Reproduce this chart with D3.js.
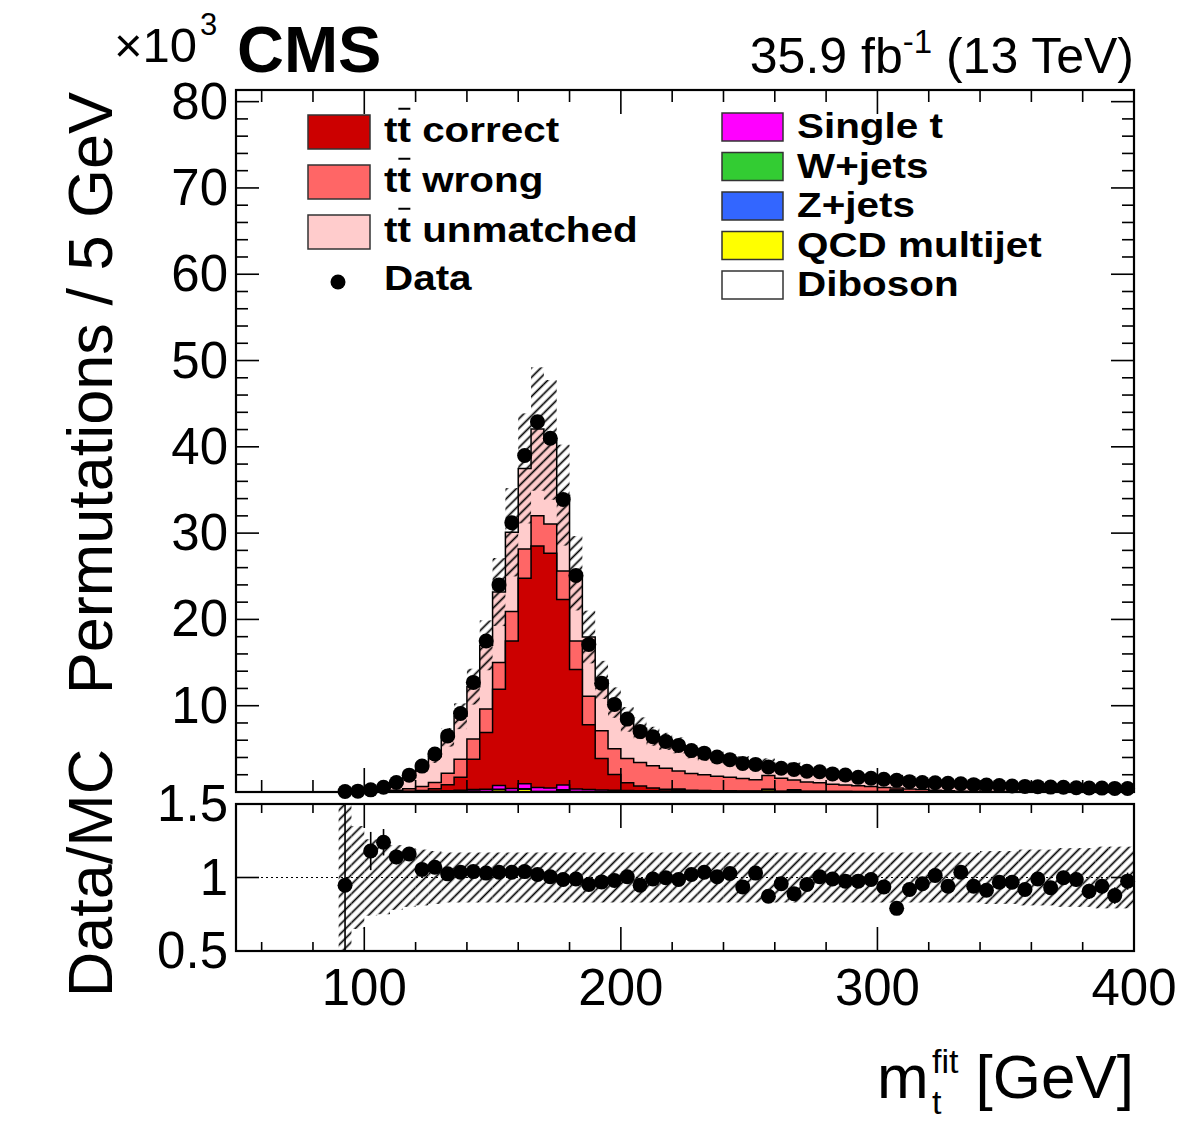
<!DOCTYPE html>
<html><head><meta charset="utf-8">
<script src="https://cdn.jsdelivr.net/npm/d3@7"></script>
<style>
body{margin:0;background:#fff}
svg{display:block}
text{font-family:"Liberation Sans",Arial,Helvetica,sans-serif;fill:#000}
</style>
</head><body>
<svg id="c" width="1182" height="1134"></svg>
<script>
// ---------------- data (values in thousands of permutations) ----------------
const binLowEdges = [90,95,100,105,110,115,120,125,130,135,140,145,150,155,160,165,170,175,180,185,
  190,195,200,205,210,215,220,225,230,235,240,245,250,255,260,265,270,275,280,285,
  290,295,300,305,310,315,320,325,330,335,340,345,350,355,360,365,370,375,380,385,390,395];
const binWidth = 5;

const dataValues = [0.06,0.1,0.25,0.55,1.1,1.95,3.0,4.4,6.5,9.1,
  12.7,17.5,24.0,31.2,39.0,42.9,41.0,33.9,25.1,17.1,
  12.6,10.15,8.45,7.0,6.4,5.85,5.4,4.8,4.5,4.05,
  3.75,3.3,3.2,2.9,2.75,2.6,2.4,2.35,2.1,1.97,
  1.7,1.6,1.47,1.35,1.2,1.1,1.07,1.0,0.95,0.85,
  0.8,0.75,0.7,0.65,0.62,0.57,0.55,0.5,0.47,0.45,0.42,0.4];

const ttCorrect = [0.005,0.008,0.01,0.02,0.03,0.04,0.08,0.25,0.7,1.5,
  3.5,6.6,11.15,17.1,23.8,28.0,27.2,21.5,13.85,7.5,
  3.65,1.8,0.9,0.55,0.32,0.2,0.1,0.08,0.07,0.06,
  0.05,0.05,0.045,0.04,0.04,0.03,0.03,0.025,0.02,0.02,
  0.015,0.015,0.015,0.01,0.01,0.01,0.01,0.005,0.005,0.005,
  0.005,0.005,0.005,0.005,0.005,0.005,0.005,0.005,0.005,0.005,0.005,0.005];

const ttWrong = [0.01,0.015,0.03,0.07,0.15,0.27,0.45,0.75,1.35,2.1,
  2.35,2.7,3.1,3.4,3.4,3.5,3.4,3.3,3.3,3.3,
  3.2,3.0,2.8,2.7,2.6,2.42,2.1,1.95,1.83,1.67,
  1.56,1.45,1.31,1.57,1.5,1.13,1.06,1.0,0.83,0.755,
  0.665,0.575,0.47,0.25,0.3,0.25,0.18,0.12,0.08,0.05,
  0.04,0.035,0.03,0.025,0.025,0.02,0.02,0.02,0.015,0.015,0.015,0.015];

const ttUnmatched = [0.039,0.03,0.155,0.327,0.75,1.31,2.215,2.995,4.155,4.985,
  6.065,7.395,8.165,9.195,9.335,10.045,9.735,8.795,7.845,6.865,
  5.895,5.345,4.525,3.985,3.405,3.115,2.975,2.565,2.34,2.21,
  1.95,1.955,1.68,1.43,1.27,1.52,1.37,1.265,1.22,1.2,
  1.02,0.99,1.05,1.26,0.975,0.87,0.855,0.92,0.82,0.835,
  0.825,0.72,0.675,0.67,0.59,0.575,0.515,0.475,0.49,0.45,0.45,0.38];

const singleTop = [0.005,0.005,0.01,0.015,0.02,0.04,0.06,0.08,0.1,0.15,
  0.2,0.25,0.45,0.35,0.6,0.45,0.4,0.55,0.3,0.25,
  0.2,0.17,0.14,0.12,0.1,0.09,0.08,0.08,0.07,0.06,
  0.06,0.05,0.05,0.05,0.04,0.04,0.04,0.03,0.03,0.03,
  0.025,0.025,0.02,0.02,0.015,0.015,0.01,0.01,0.01,0.005,
  0.005,0.005,0.005,0.005,0.005,0.005,0.005,0.005,0.005,0.005,0.005,0.005];

const wJets = [0.002,0.002,0.003,0.005,0.01,0.015,0.02,0.02,0.02,0.03,
  0.03,0.04,0.04,0.04,0.05,0.05,0.05,0.04,0.04,0.03,
  0.03,0.03,0.03,0.02,0.02,0.02,0.02,0.02,0.015,0.015,
  0.015,0.01,0.01,0.01,0.01,0.01,0.01,0.01,0.01,0.005,
  0.005,0.005,0.005,0.005,0.005,0.005,0.005,0.005,0.005,0.005,
  0.005,0.005,0.005,0.005,0.005,0.005,0.005,0.005,0.005,0.005,0.005,0.005];

const zJets = [0.002,0.002,0.002,0.003,0.005,0.005,0.01,0.01,0.01,0.01,
  0.01,0.01,0.01,0.01,0.01,0.01,0.01,0.01,0.01,0.01,
  0.01,0.01,0.01,0.01,0.01,0.01,0.01,0.01,0.01,0.01,
  0.01,0.01,0.01,0.005,0.005,0.005,0.005,0.005,0.005,0.005,
  0.005,0.005,0.005,0.005,0.005,0,0,0,0,0,
  0,0,0,0,0,0,0,0,0,0,0,0];

const qcdMultijet = [0,0,0,0,0,0,0,0,0,0,
  0.05,0,0.25,0,0.3,0,0,0.2,0,0,
  0,0,0,0,0,0,0.12,0,0,0,
  0,0,0,0.22,0,0.18,0,0,0,0,
  0,0,0,0.16,0,0,0,0,0,0,
  0,0,0,0,0,0,0,0,0,0,0,0];

const diboson = [0,0,0,0,0,0,0.005,0.005,0.005,0.005,
  0.005,0.005,0.005,0.005,0.005,0.005,0.005,0.005,0.005,0.005,
  0.005,0.005,0.005,0.005,0.005,0.005,0.005,0.005,0.005,0.005,
  0.005,0.005,0.005,0.005,0.005,0.005,0.005,0.005,0.005,0.005,
  0.005,0.005,0.005,0,0,0,0,0,0,0,
  0,0,0,0,0,0,0,0,0,0,0,0];

const ratioValues = [0.947,1.7,1.18,1.24,1.14,1.16,1.055,1.07,1.025,1.036,
  1.04,1.03,1.036,1.036,1.04,1.02,1.005,0.986,0.99,0.952,
  0.97,0.98,1.005,0.947,0.99,0.998,0.986,1.02,1.036,1.005,
  1.027,0.936,1.03,0.872,0.957,0.89,0.952,1.005,0.99,0.975,
  0.975,0.986,0.936,0.79,0.918,0.957,1.014,0.94,1.036,0.94,
  0.913,0.968,0.968,0.918,0.99,0.93,0.998,0.986,0.906,0.94,0.877,0.975];

const ratioErrors = [0.6,0.3,0.13,0.09,0.05,0.04,0.03,0.025,0.02,0.015,
  0.012,0.012,0.012,0.012,0.012,0.012,0.012,0.012,0.012,0.012,
  0.012,0.012,0.012,0.012,0.012,0.012,0.012,0.012,0.012,0.012,
  0.015,0.015,0.018,0.018,0.02,0.02,0.02,0.022,0.022,0.025,
  0.025,0.027,0.028,0.03,0.03,0.032,0.033,0.035,0.036,0.038,
  0.04,0.041,0.042,0.044,0.045,0.046,0.048,0.05,0.052,0.054,0.056,0.058];

const mcRelUnc = [1.0,0.35,0.26,0.25,0.22,0.2,0.19,0.18,0.17,0.17,
  0.17,0.17,0.17,0.17,0.17,0.17,0.17,0.17,0.17,0.17,
  0.17,0.17,0.17,0.17,0.17,0.17,0.17,0.17,0.17,0.17,
  0.17,0.17,0.17,0.17,0.17,0.17,0.17,0.17,0.17,0.17,
  0.17,0.17,0.17,0.17,0.17,0.17,0.17,0.17,0.17,0.17,
  0.18,0.18,0.18,0.19,0.19,0.19,0.2,0.2,0.2,0.21,0.21,0.21];

const xTickLabels = [100,200,300,400];
const yTickLabels = [10,20,30,40,50,60,70,80];
const ratioTickLabels = [0.5,1,1.5];

// ---------------- styles ----------------
const colors = {ttCorrect:'#cc0000', ttWrong:'#ff6666', ttUnmatched:'#ffcccc',
  singleTop:'#ff00ff', wJets:'#33cc33', zJets:'#3366ff', qcdMultijet:'#ffff00', diboson:'#ffffff'};
const labels = {ttCorrect:' correct', ttWrong:' wrong', ttUnmatched:' unmatched',
  singleTop:'Single t', wJets:'W+jets', zJets:'Z+jets', qcdMultijet:'QCD multijet', diboson:'Diboson'};

const svg = d3.select('#c');
const X0 = 236, X1 = 1134, YT = 90, YB = 792, RT = 804, RB = 951;
const x = d3.scaleLinear().domain([50,400]).range([X0,X1]);
const y = d3.scaleLinear().domain([0,81.35]).range([YB,YT]);
const yr = d3.scaleLinear().domain([0.5,1.5]).range([RB,RT]);

const defs = svg.append('defs');
const pat = defs.append('pattern').attr('id','hatch').attr('patternUnits','userSpaceOnUse')
  .attr('width',6.8).attr('height',6.8).attr('patternTransform','rotate(45)');
pat.append('line').attr('x1',3.4).attr('y1',0).attr('x2',3.4).attr('y2',6.8)
  .attr('stroke','#000').attr('stroke-width',1.7);
defs.append('clipPath').attr('id','rclip').append('rect')
  .attr('x',X0).attr('y',RT).attr('width',X1-X0).attr('height',RB-RT);
defs.append('clipPath').attr('id','mclip').append('rect')
  .attr('x',X0).attr('y',YT).attr('width',X1-X0).attr('height',YB-YT);

// ---------------- stack ----------------
const series = {ttCorrect, ttWrong, ttUnmatched, singleTop, wJets, zJets, qcdMultijet, diboson};
const stackOrder = ['diboson','qcdMultijet','zJets','wJets','singleTop','ttCorrect','ttWrong','ttUnmatched'];
const rows = binLowEdges.map((lo,i)=>{const r={lo}; stackOrder.forEach(k=>r[k]=series[k][i]); return r;});
const stacked = d3.stack().keys(stackOrder)(rows);
const totals = stacked[stacked.length-1].map(d=>d[1]);

const main = svg.append('g');
const area = d3.area().x(p=>x(p[0])).y0(y(0)).y1(p=>y(p[1]));
stacked.slice().reverse().forEach(s=>{
  const pts = s.flatMap(d=>[[d.data.lo,d[1]],[d.data.lo+binWidth,d[1]]]);
  main.append('path').attr('d',area(pts)).attr('fill',colors[s.key])
    .attr('stroke','#000').attr('stroke-width',1.5).attr('stroke-linejoin','miter');
});

// MC uncertainty band (main)
main.append('g').attr('clip-path','url(#mclip)').selectAll('rect').data(binLowEdges).join('rect')
  .attr('x',d=>x(d)).attr('width',d=>x(d+binWidth)-x(d))
  .attr('y',(d,i)=>y(totals[i]*(1+mcRelUnc[i])))
  .attr('height',(d,i)=>y(Math.max(0,totals[i]*(1-mcRelUnc[i])))-y(totals[i]*(1+mcRelUnc[i])))
  .attr('fill','url(#hatch)');

// ---------------- ratio panel ----------------
const rp = svg.append('g');
rp.append('g').attr('clip-path','url(#rclip)').selectAll('rect').data(binLowEdges).join('rect')
  .attr('x',d=>x(d)).attr('width',d=>x(d+binWidth)-x(d))
  .attr('y',(d,i)=>yr(1+mcRelUnc[i]))
  .attr('height',(d,i)=>yr(1-mcRelUnc[i])-yr(1+mcRelUnc[i]))
  .attr('fill','url(#hatch)');
ratioTickLabels.forEach(v=>{
  rp.append('line').attr('x1',X0).attr('x2',X1).attr('y1',yr(v)).attr('y2',yr(v))
    .attr('stroke','#000').attr('stroke-width',1.2).attr('stroke-dasharray','2,3');
});

// ---------------- frames & ticks ----------------
const ax = svg.append('g').attr('stroke','#000').attr('stroke-width',1.6);
function tick(x1,y1,x2,y2){ax.append('line').attr('x1',x1).attr('y1',y1).attr('x2',x2).attr('y2',y2);}
const xMinor = d3.range(60,400,20).filter(v=>v%100!==0);
const xMajor = [100,200,300];
xMajor.forEach(v=>{tick(x(v),YB,x(v),YB-24);tick(x(v),YT,x(v),YT+24);
  tick(x(v),RB,x(v),RB-24);tick(x(v),RT,x(v),RT+24);});
xMinor.forEach(v=>{tick(x(v),YB,x(v),YB-12);tick(x(v),YT,x(v),YT+12);
  tick(x(v),RB,x(v),RB-9);tick(x(v),RT,x(v),RT+9);});
d3.range(0,81,2).forEach(v=>{const L=v%10===0?23:12;
  tick(X0,y(v),X0+L,y(v));tick(X1,y(v),X1-L,y(v));});
tick(X0,yr(1),X0+23,yr(1));tick(X1,yr(1),X1-23,yr(1));
svg.append('rect').attr('x',X0).attr('y',YT).attr('width',X1-X0).attr('height',YB-YT)
  .attr('fill','none').attr('stroke','#000').attr('stroke-width',2.2);
svg.append('rect').attr('x',X0).attr('y',RT).attr('width',X1-X0).attr('height',RB-RT)
  .attr('fill','none').attr('stroke','#000').attr('stroke-width',2.2);

// ---------------- data points ----------------
const R = 7.5;
svg.append('g').selectAll('circle').data(dataValues).join('circle')
  .attr('cx',(d,i)=>x(binLowEdges[i]+binWidth/2)).attr('cy',d=>y(d)).attr('r',R).attr('fill','#000');
const rpts = svg.append('g');
ratioValues.forEach((r,i)=>{
  if(r<0.5||r>1.5) return;
  const cx = x(binLowEdges[i]+binWidth/2);
  const e = ratioErrors[i];
  rpts.append('line').attr('x1',cx).attr('x2',cx)
    .attr('y1',yr(Math.min(1.5,r+e))).attr('y2',yr(Math.max(0.5,r-e)))
    .attr('stroke','#000').attr('stroke-width',1.6);
  rpts.append('circle').attr('cx',cx).attr('cy',yr(r)).attr('r',R).attr('fill','#000');
});

// ---------------- tick labels ----------------
const TF = 51;
yTickLabels.forEach(v=>svg.append('text').attr('x',228).attr('y',y(v)+17).attr('text-anchor','end')
  .attr('font-size',TF).text(v));
ratioTickLabels.forEach(v=>svg.append('text').attr('x',228).attr('y',yr(v)+17).attr('text-anchor','end')
  .attr('font-size',TF).text(v));
xTickLabels.forEach(v=>svg.append('text').attr('x',x(v)).attr('y',1005).attr('text-anchor','middle')
  .attr('font-size',TF).text(v));

// ---------------- titles ----------------
svg.append('text').attr('transform','translate(112,92) rotate(-90)').attr('text-anchor','end')
  .attr('font-size',63).text('Permutations / 5 GeV');
svg.append('text').attr('transform','translate(112,873) rotate(-90)').attr('text-anchor','middle')
  .attr('font-size',63).text('Data/MC');
svg.append('text').attr('x',877).attr('y',1098).attr('font-size',62).text('m');
svg.append('text').attr('x',932).attr('y',1073).attr('font-size',34).text('fit');
svg.append('text').attr('x',932).attr('y',1114).attr('font-size',34).text('t');
svg.append('text').attr('x',1134).attr('y',1098).attr('text-anchor','end').attr('font-size',62).text('[GeV]');

svg.append('text').attr('x',114).attr('y',62).attr('font-size',49).text('\u00d710');
svg.append('text').attr('x',200).attr('y',35).attr('font-size',31).text('3');
svg.append('text').attr('x',237).attr('y',72).attr('font-size',65).attr('font-weight','bold').text('CMS');
const lumi = svg.append('text').attr('x',1134).attr('y',73).attr('text-anchor','end').attr('font-size',50);
lumi.append('tspan').text('35.9 fb');
lumi.append('tspan').attr('dy',-20).attr('font-size',33).text('-1');
lumi.append('tspan').attr('dy',20).attr('font-size',50).text(' (13 TeV)');

// ---------------- legend ----------------
const LF = 35, LSX = 1.155;
const leg = svg.append('g');
const leftKeys = ['ttCorrect','ttWrong','ttUnmatched'];
leftKeys.forEach((k,i)=>{
  const cy = 132 + i*50;
  leg.append('rect').attr('x',308).attr('y',cy-17).attr('width',62).attr('height',34)
    .attr('fill',colors[k]).attr('stroke','#333').attr('stroke-width',1.5);
  const g = leg.append('g').attr('transform',`translate(384,${cy+10}) scale(${LSX},1)`);
  const t = g.append('text').attr('x',0).attr('y',0).attr('font-size',LF).attr('font-weight','bold')
    .text('tt'+labels[k]);
  const ext = t.node().getExtentOfChar(1);
  g.append('line').attr('x1',ext.x+0.8).attr('x2',ext.x+ext.width-0.5)
    .attr('y1',-0.95*LF).attr('y2',-0.95*LF).attr('stroke','#000').attr('stroke-width',2);
});
leg.append('circle').attr('cx',338).attr('cy',282).attr('r',7.5).attr('fill','#000');
leg.append('g').attr('transform',`translate(384,290) scale(${LSX},1)`)
  .append('text').attr('font-size',LF).attr('font-weight','bold').text('Data');
const rightKeys = ['singleTop','wJets','zJets','qcdMultijet','diboson'];
rightKeys.forEach((k,i)=>{
  const cy = 127 + i*39.5;
  leg.append('rect').attr('x',722).attr('y',cy-14).attr('width',61).attr('height',28)
    .attr('fill',colors[k]).attr('stroke','#333').attr('stroke-width',1.5);
  leg.append('g').attr('transform',`translate(797,${cy+11}) scale(${LSX},1)`)
    .append('text').attr('font-size',LF).attr('font-weight','bold').text(labels[k]);
});
</script>
</body></html>
